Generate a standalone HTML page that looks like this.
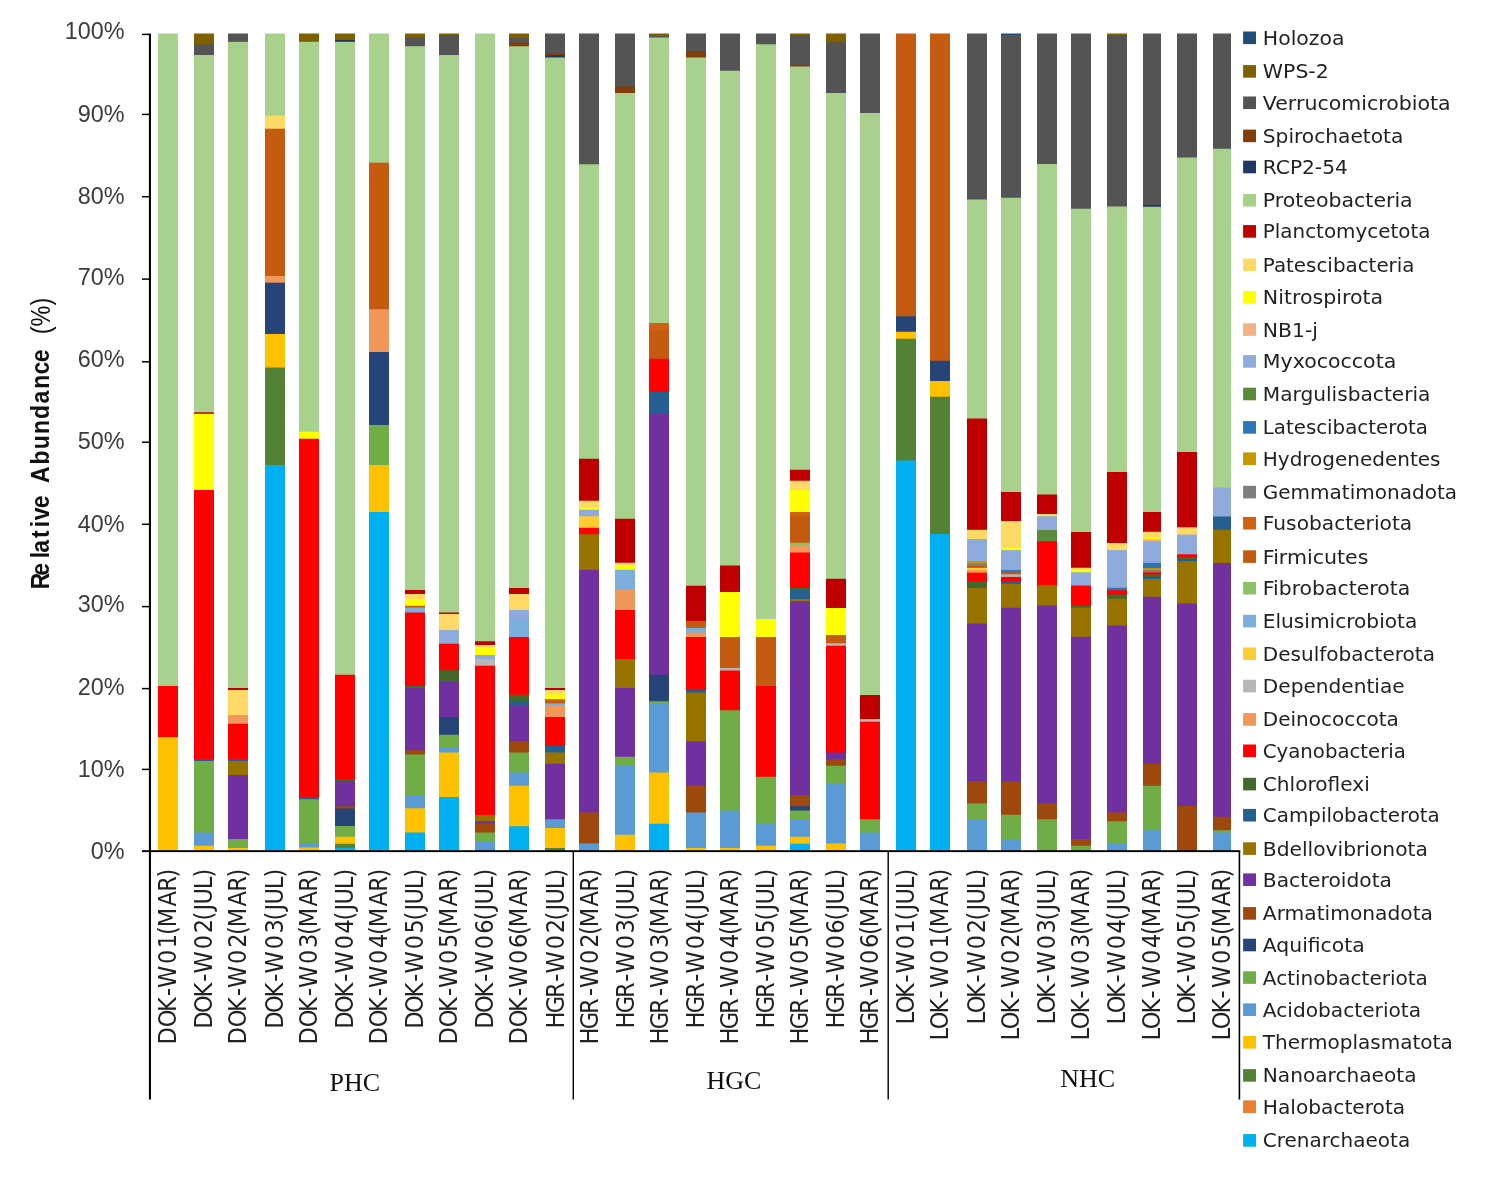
<!DOCTYPE html>
<html lang="en"><head><meta charset="utf-8"><title>Relative Abundance</title>
<style>html,body{margin:0;padding:0;background:#fff}svg{display:block}.yl{font-family:"Liberation Sans",sans-serif;font-size:23.4px;fill:#3c3c3c}.xl{font-family:"DejaVu Sans Condensed","Liberation Sans",sans-serif;font-size:25px;fill:#222}.lg{font-family:"DejaVu Sans","Liberation Sans",sans-serif;font-size:19.5px;fill:#222}.gl{font-family:"Liberation Serif",serif;font-size:26px;fill:#111}.yt{font-family:"Liberation Sans",sans-serif;font-weight:bold;font-size:25.5px;fill:#111}</style></head><body>
<svg width="1504" height="1187" viewBox="0 0 1504 1187">
<rect width="1504" height="1187" fill="#fff"/>
<g>
<rect x="158" y="33.50" width="20" height="817.50" fill="#A9D18E"/>
<rect x="158" y="686.00" width="20" height="165.00" fill="#FF0000"/>
<rect x="158" y="737.00" width="20" height="114.00" fill="#FFC000"/>
<rect x="194" y="33.50" width="20" height="817.50" fill="#7F6000"/>
<rect x="194" y="44.50" width="20" height="806.50" fill="#545454"/>
<rect x="194" y="55.00" width="20" height="796.00" fill="#A9D18E"/>
<rect x="194" y="412.25" width="20" height="438.75" fill="#C00000"/>
<rect x="194" y="413.75" width="20" height="437.25" fill="#FFFF00"/>
<rect x="194" y="490.00" width="20" height="361.00" fill="#FF0000"/>
<rect x="194" y="759.00" width="20" height="92.00" fill="#255E91"/>
<rect x="194" y="761.00" width="20" height="90.00" fill="#70AD47"/>
<rect x="194" y="832.50" width="20" height="18.50" fill="#5B9BD5"/>
<rect x="194" y="845.75" width="20" height="5.25" fill="#FFC000"/>
<rect x="228" y="33.50" width="20" height="817.50" fill="#545454"/>
<rect x="228" y="41.80" width="20" height="809.20" fill="#A9D18E"/>
<rect x="228" y="688.00" width="20" height="163.00" fill="#C00000"/>
<rect x="228" y="690.00" width="20" height="161.00" fill="#FFD966"/>
<rect x="228" y="715.00" width="20" height="136.00" fill="#F1975A"/>
<rect x="228" y="723.75" width="20" height="127.25" fill="#FF0000"/>
<rect x="228" y="759.00" width="20" height="92.00" fill="#255E91"/>
<rect x="228" y="761.00" width="20" height="90.00" fill="#997300"/>
<rect x="228" y="775.00" width="20" height="76.00" fill="#7030A0"/>
<rect x="228" y="839.00" width="20" height="12.00" fill="#70AD47"/>
<rect x="228" y="848.00" width="20" height="3.00" fill="#FFC000"/>
<rect x="265" y="33.50" width="20" height="817.50" fill="#A9D18E"/>
<rect x="265" y="115.50" width="20" height="735.50" fill="#FFD966"/>
<rect x="265" y="128.70" width="20" height="722.30" fill="#C55A11"/>
<rect x="265" y="276.00" width="20" height="575.00" fill="#F1975A"/>
<rect x="265" y="282.70" width="20" height="568.30" fill="#264478"/>
<rect x="265" y="334.00" width="20" height="517.00" fill="#FFC000"/>
<rect x="265" y="367.50" width="20" height="483.50" fill="#548235"/>
<rect x="265" y="465.00" width="20" height="386.00" fill="#00B0F0"/>
<rect x="299" y="33.50" width="20" height="817.50" fill="#7F6000"/>
<rect x="299" y="41.80" width="20" height="809.20" fill="#A9D18E"/>
<rect x="299" y="431.75" width="20" height="419.25" fill="#FFFF00"/>
<rect x="299" y="438.75" width="20" height="412.25" fill="#FF0000"/>
<rect x="299" y="797.00" width="20" height="54.00" fill="#255E91"/>
<rect x="299" y="799.25" width="20" height="51.75" fill="#70AD47"/>
<rect x="299" y="843.75" width="20" height="7.25" fill="#5B9BD5"/>
<rect x="299" y="847.50" width="20" height="3.50" fill="#FFC000"/>
<rect x="335" y="33.50" width="20" height="817.50" fill="#7F6000"/>
<rect x="335" y="40.00" width="20" height="811.00" fill="#1F3864"/>
<rect x="335" y="41.80" width="20" height="809.20" fill="#A9D18E"/>
<rect x="335" y="674.75" width="20" height="176.25" fill="#FF0000"/>
<rect x="335" y="779.25" width="20" height="71.75" fill="#43682B"/>
<rect x="335" y="781.25" width="20" height="69.75" fill="#7030A0"/>
<rect x="335" y="806.25" width="20" height="44.75" fill="#9E480E"/>
<rect x="335" y="808.50" width="20" height="42.50" fill="#264478"/>
<rect x="335" y="826.00" width="20" height="25.00" fill="#70AD47"/>
<rect x="335" y="836.75" width="20" height="14.25" fill="#FFC000"/>
<rect x="335" y="843.75" width="20" height="7.25" fill="#548235"/>
<rect x="335" y="848.00" width="20" height="3.00" fill="#00B0F0"/>
<rect x="369" y="33.50" width="20" height="817.50" fill="#A9D18E"/>
<rect x="369" y="162.70" width="20" height="688.30" fill="#C55A11"/>
<rect x="369" y="309.25" width="20" height="541.75" fill="#F1975A"/>
<rect x="369" y="352.00" width="20" height="499.00" fill="#264478"/>
<rect x="369" y="425.00" width="20" height="426.00" fill="#70AD47"/>
<rect x="369" y="465.00" width="20" height="386.00" fill="#FFC000"/>
<rect x="369" y="512.00" width="20" height="339.00" fill="#00B0F0"/>
<rect x="405" y="33.50" width="20" height="817.50" fill="#7F6000"/>
<rect x="405" y="37.40" width="20" height="813.60" fill="#545454"/>
<rect x="405" y="46.20" width="20" height="804.80" fill="#A9D18E"/>
<rect x="405" y="590.00" width="20" height="261.00" fill="#C00000"/>
<rect x="405" y="594.00" width="20" height="257.00" fill="#FFD966"/>
<rect x="405" y="599.00" width="20" height="252.00" fill="#FFFF00"/>
<rect x="405" y="605.75" width="20" height="245.25" fill="#C55A11"/>
<rect x="405" y="607.50" width="20" height="243.50" fill="#7CAFDD"/>
<rect x="405" y="612.50" width="20" height="238.50" fill="#FF0000"/>
<rect x="405" y="686.00" width="20" height="165.00" fill="#43682B"/>
<rect x="405" y="688.00" width="20" height="163.00" fill="#7030A0"/>
<rect x="405" y="750.25" width="20" height="100.75" fill="#9E480E"/>
<rect x="405" y="754.50" width="20" height="96.50" fill="#70AD47"/>
<rect x="405" y="795.00" width="20" height="56.00" fill="#5B9BD5"/>
<rect x="405" y="808.25" width="20" height="42.75" fill="#FFC000"/>
<rect x="405" y="832.50" width="20" height="18.50" fill="#00B0F0"/>
<rect x="439" y="33.50" width="20" height="817.50" fill="#7F6000"/>
<rect x="439" y="35.00" width="20" height="816.00" fill="#545454"/>
<rect x="439" y="55.00" width="20" height="796.00" fill="#A9D18E"/>
<rect x="439" y="612.50" width="20" height="238.50" fill="#C00000"/>
<rect x="439" y="614.00" width="20" height="237.00" fill="#FFD966"/>
<rect x="439" y="630.00" width="20" height="221.00" fill="#8FAADC"/>
<rect x="439" y="643.75" width="20" height="207.25" fill="#FF0000"/>
<rect x="439" y="670.25" width="20" height="180.75" fill="#43682B"/>
<rect x="439" y="681.25" width="20" height="169.75" fill="#7030A0"/>
<rect x="439" y="717.25" width="20" height="133.75" fill="#264478"/>
<rect x="439" y="734.75" width="20" height="116.25" fill="#70AD47"/>
<rect x="439" y="748.00" width="20" height="103.00" fill="#5B9BD5"/>
<rect x="439" y="752.50" width="20" height="98.50" fill="#FFC000"/>
<rect x="439" y="797.00" width="20" height="54.00" fill="#00B0F0"/>
<rect x="475" y="33.50" width="20" height="817.50" fill="#A9D18E"/>
<rect x="475" y="641.25" width="20" height="209.75" fill="#C00000"/>
<rect x="475" y="645.00" width="20" height="206.00" fill="#FFD966"/>
<rect x="475" y="647.50" width="20" height="203.50" fill="#FFFF00"/>
<rect x="475" y="655.00" width="20" height="196.00" fill="#8FAADC"/>
<rect x="475" y="659.00" width="20" height="192.00" fill="#B7B7B7"/>
<rect x="475" y="665.75" width="20" height="185.25" fill="#FF0000"/>
<rect x="475" y="815.00" width="20" height="36.00" fill="#997300"/>
<rect x="475" y="821.25" width="20" height="29.75" fill="#7030A0"/>
<rect x="475" y="823.50" width="20" height="27.50" fill="#9E480E"/>
<rect x="475" y="832.50" width="20" height="18.50" fill="#70AD47"/>
<rect x="475" y="841.75" width="20" height="9.25" fill="#5B9BD5"/>
<rect x="509" y="33.50" width="20" height="817.50" fill="#7F6000"/>
<rect x="509" y="38.00" width="20" height="813.00" fill="#545454"/>
<rect x="509" y="42.50" width="20" height="808.50" fill="#843C0B"/>
<rect x="509" y="46.25" width="20" height="804.75" fill="#A9D18E"/>
<rect x="509" y="588.00" width="20" height="263.00" fill="#C00000"/>
<rect x="509" y="594.00" width="20" height="257.00" fill="#FFD966"/>
<rect x="509" y="610.00" width="20" height="241.00" fill="#8FAADC"/>
<rect x="509" y="619.25" width="20" height="231.75" fill="#7CAFDD"/>
<rect x="509" y="637.00" width="20" height="214.00" fill="#FF0000"/>
<rect x="509" y="694.75" width="20" height="156.25" fill="#43682B"/>
<rect x="509" y="701.25" width="20" height="149.75" fill="#255E91"/>
<rect x="509" y="705.75" width="20" height="145.25" fill="#7030A0"/>
<rect x="509" y="741.25" width="20" height="109.75" fill="#9E480E"/>
<rect x="509" y="752.50" width="20" height="98.50" fill="#70AD47"/>
<rect x="509" y="772.50" width="20" height="78.50" fill="#5B9BD5"/>
<rect x="509" y="785.75" width="20" height="65.25" fill="#FFC000"/>
<rect x="509" y="826.25" width="20" height="24.75" fill="#00B0F0"/>
<rect x="545" y="33.50" width="20" height="817.50" fill="#545454"/>
<rect x="545" y="53.25" width="20" height="797.75" fill="#843C0B"/>
<rect x="545" y="55.25" width="20" height="795.75" fill="#1F3864"/>
<rect x="545" y="57.50" width="20" height="793.50" fill="#A9D18E"/>
<rect x="545" y="688.00" width="20" height="163.00" fill="#C00000"/>
<rect x="545" y="690.00" width="20" height="161.00" fill="#FFD966"/>
<rect x="545" y="694.50" width="20" height="156.50" fill="#FFFF00"/>
<rect x="545" y="699.10" width="20" height="151.90" fill="#D26012"/>
<rect x="545" y="701.20" width="20" height="149.80" fill="#C55A11"/>
<rect x="545" y="703.40" width="20" height="147.60" fill="#7CAFDD"/>
<rect x="545" y="705.75" width="20" height="145.25" fill="#F1975A"/>
<rect x="545" y="717.00" width="20" height="134.00" fill="#FF0000"/>
<rect x="545" y="745.75" width="20" height="105.25" fill="#255E91"/>
<rect x="545" y="752.50" width="20" height="98.50" fill="#997300"/>
<rect x="545" y="763.75" width="20" height="87.25" fill="#7030A0"/>
<rect x="545" y="819.25" width="20" height="31.75" fill="#5B9BD5"/>
<rect x="545" y="828.00" width="20" height="23.00" fill="#FFC000"/>
<rect x="545" y="848.00" width="20" height="3.00" fill="#548235"/>
<rect x="579" y="33.50" width="20" height="817.50" fill="#545454"/>
<rect x="579" y="164.25" width="20" height="686.75" fill="#A9D18E"/>
<rect x="579" y="458.75" width="20" height="392.25" fill="#C00000"/>
<rect x="579" y="500.75" width="20" height="350.25" fill="#FFD966"/>
<rect x="579" y="507.50" width="20" height="343.50" fill="#FFFF00"/>
<rect x="579" y="509.75" width="20" height="341.25" fill="#8FAADC"/>
<rect x="579" y="516.25" width="20" height="334.75" fill="#FFCD33"/>
<rect x="579" y="527.75" width="20" height="323.25" fill="#FF0000"/>
<rect x="579" y="534.25" width="20" height="316.75" fill="#997300"/>
<rect x="579" y="569.75" width="20" height="281.25" fill="#7030A0"/>
<rect x="579" y="812.50" width="20" height="38.50" fill="#9E480E"/>
<rect x="579" y="843.50" width="20" height="7.50" fill="#5B9BD5"/>
<rect x="615" y="33.50" width="20" height="817.50" fill="#545454"/>
<rect x="615" y="86.50" width="20" height="764.50" fill="#843C0B"/>
<rect x="615" y="93.00" width="20" height="758.00" fill="#A9D18E"/>
<rect x="615" y="518.75" width="20" height="332.25" fill="#C00000"/>
<rect x="615" y="562.75" width="20" height="288.25" fill="#FFD966"/>
<rect x="615" y="565.00" width="20" height="286.00" fill="#FFFF00"/>
<rect x="615" y="569.75" width="20" height="281.25" fill="#7CAFDD"/>
<rect x="615" y="590.00" width="20" height="261.00" fill="#F1975A"/>
<rect x="615" y="610.00" width="20" height="241.00" fill="#FF0000"/>
<rect x="615" y="659.00" width="20" height="192.00" fill="#997300"/>
<rect x="615" y="688.00" width="20" height="163.00" fill="#7030A0"/>
<rect x="615" y="756.75" width="20" height="94.25" fill="#70AD47"/>
<rect x="615" y="765.75" width="20" height="85.25" fill="#5B9BD5"/>
<rect x="615" y="834.75" width="20" height="16.25" fill="#FFC000"/>
<rect x="649" y="33.50" width="20" height="817.50" fill="#7F6000"/>
<rect x="649" y="35.75" width="20" height="815.25" fill="#545454"/>
<rect x="649" y="37.50" width="20" height="813.50" fill="#A9D18E"/>
<rect x="649" y="323.00" width="20" height="528.00" fill="#D26012"/>
<rect x="649" y="330.25" width="20" height="520.75" fill="#C55A11"/>
<rect x="649" y="358.75" width="20" height="492.25" fill="#FF0000"/>
<rect x="649" y="391.75" width="20" height="459.25" fill="#255E91"/>
<rect x="649" y="414.00" width="20" height="437.00" fill="#7030A0"/>
<rect x="649" y="674.75" width="20" height="176.25" fill="#264478"/>
<rect x="649" y="701.25" width="20" height="149.75" fill="#70AD47"/>
<rect x="649" y="703.50" width="20" height="147.50" fill="#5B9BD5"/>
<rect x="649" y="772.50" width="20" height="78.50" fill="#FFC000"/>
<rect x="649" y="823.75" width="20" height="27.25" fill="#00B0F0"/>
<rect x="686" y="33.50" width="20" height="817.50" fill="#545454"/>
<rect x="686" y="51.00" width="20" height="800.00" fill="#843C0B"/>
<rect x="686" y="57.50" width="20" height="793.50" fill="#A9D18E"/>
<rect x="686" y="585.75" width="20" height="265.25" fill="#C00000"/>
<rect x="686" y="621.00" width="20" height="230.00" fill="#C55A11"/>
<rect x="686" y="628.00" width="20" height="223.00" fill="#7CAFDD"/>
<rect x="686" y="632.50" width="20" height="218.50" fill="#F1975A"/>
<rect x="686" y="637.00" width="20" height="214.00" fill="#FF0000"/>
<rect x="686" y="690.00" width="20" height="161.00" fill="#255E91"/>
<rect x="686" y="692.50" width="20" height="158.50" fill="#997300"/>
<rect x="686" y="741.25" width="20" height="109.75" fill="#7030A0"/>
<rect x="686" y="785.75" width="20" height="65.25" fill="#9E480E"/>
<rect x="686" y="812.50" width="20" height="38.50" fill="#5B9BD5"/>
<rect x="686" y="848.00" width="20" height="3.00" fill="#FFC000"/>
<rect x="720" y="33.50" width="20" height="817.50" fill="#545454"/>
<rect x="720" y="70.75" width="20" height="780.25" fill="#A9D18E"/>
<rect x="720" y="565.50" width="20" height="285.50" fill="#C00000"/>
<rect x="720" y="592.00" width="20" height="259.00" fill="#FFFF00"/>
<rect x="720" y="637.00" width="20" height="214.00" fill="#C55A11"/>
<rect x="720" y="668.00" width="20" height="183.00" fill="#B7B7B7"/>
<rect x="720" y="670.50" width="20" height="180.50" fill="#FF0000"/>
<rect x="720" y="710.25" width="20" height="140.75" fill="#70AD47"/>
<rect x="720" y="810.50" width="20" height="40.50" fill="#5B9BD5"/>
<rect x="720" y="848.00" width="20" height="3.00" fill="#FFC000"/>
<rect x="756" y="33.50" width="20" height="817.50" fill="#545454"/>
<rect x="756" y="44.25" width="20" height="806.75" fill="#A9D18E"/>
<rect x="756" y="619.00" width="20" height="232.00" fill="#FFFF00"/>
<rect x="756" y="637.00" width="20" height="214.00" fill="#C55A11"/>
<rect x="756" y="686.00" width="20" height="165.00" fill="#FF0000"/>
<rect x="756" y="776.75" width="20" height="74.25" fill="#70AD47"/>
<rect x="756" y="823.75" width="20" height="27.25" fill="#5B9BD5"/>
<rect x="756" y="845.75" width="20" height="5.25" fill="#FFC000"/>
<rect x="790" y="33.50" width="20" height="817.50" fill="#7F6000"/>
<rect x="790" y="35.50" width="20" height="815.50" fill="#545454"/>
<rect x="790" y="64.75" width="20" height="786.25" fill="#843C0B"/>
<rect x="790" y="66.50" width="20" height="784.50" fill="#A9D18E"/>
<rect x="790" y="469.75" width="20" height="381.25" fill="#C00000"/>
<rect x="790" y="480.75" width="20" height="370.25" fill="#FFD966"/>
<rect x="790" y="490.00" width="20" height="361.00" fill="#FFFF00"/>
<rect x="790" y="512.00" width="20" height="339.00" fill="#D26012"/>
<rect x="790" y="516.25" width="20" height="334.75" fill="#C55A11"/>
<rect x="790" y="542.75" width="20" height="308.25" fill="#8CC168"/>
<rect x="790" y="545.75" width="20" height="305.25" fill="#F1975A"/>
<rect x="790" y="552.50" width="20" height="298.50" fill="#FF0000"/>
<rect x="790" y="588.00" width="20" height="263.00" fill="#43682B"/>
<rect x="790" y="590.00" width="20" height="261.00" fill="#255E91"/>
<rect x="790" y="599.00" width="20" height="252.00" fill="#997300"/>
<rect x="790" y="601.25" width="20" height="249.75" fill="#7030A0"/>
<rect x="790" y="795.00" width="20" height="56.00" fill="#9E480E"/>
<rect x="790" y="806.25" width="20" height="44.75" fill="#264478"/>
<rect x="790" y="810.50" width="20" height="40.50" fill="#70AD47"/>
<rect x="790" y="819.25" width="20" height="31.75" fill="#5B9BD5"/>
<rect x="790" y="836.75" width="20" height="14.25" fill="#FFC000"/>
<rect x="790" y="843.75" width="20" height="7.25" fill="#00B0F0"/>
<rect x="826" y="33.50" width="20" height="817.50" fill="#7F6000"/>
<rect x="826" y="42.25" width="20" height="808.75" fill="#545454"/>
<rect x="826" y="93.00" width="20" height="758.00" fill="#A9D18E"/>
<rect x="826" y="578.75" width="20" height="272.25" fill="#C00000"/>
<rect x="826" y="608.00" width="20" height="243.00" fill="#FFFF00"/>
<rect x="826" y="635.00" width="20" height="216.00" fill="#C55A11"/>
<rect x="826" y="643.25" width="20" height="207.75" fill="#B7B7B7"/>
<rect x="826" y="645.75" width="20" height="205.25" fill="#FF0000"/>
<rect x="826" y="752.50" width="20" height="98.50" fill="#7030A0"/>
<rect x="826" y="759.25" width="20" height="91.75" fill="#9E480E"/>
<rect x="826" y="765.75" width="20" height="85.25" fill="#70AD47"/>
<rect x="826" y="783.75" width="20" height="67.25" fill="#5B9BD5"/>
<rect x="826" y="843.50" width="20" height="7.50" fill="#FFC000"/>
<rect x="860" y="33.50" width="20" height="817.50" fill="#545454"/>
<rect x="860" y="113.00" width="20" height="738.00" fill="#A9D18E"/>
<rect x="860" y="695.00" width="20" height="156.00" fill="#C00000"/>
<rect x="860" y="719.00" width="20" height="132.00" fill="#B7B7B7"/>
<rect x="860" y="721.75" width="20" height="129.25" fill="#FF0000"/>
<rect x="860" y="819.25" width="20" height="31.75" fill="#70AD47"/>
<rect x="860" y="832.50" width="20" height="18.50" fill="#5B9BD5"/>
<rect x="896" y="33.50" width="20" height="817.50" fill="#C55A11"/>
<rect x="896" y="316.25" width="20" height="534.75" fill="#264478"/>
<rect x="896" y="331.75" width="20" height="519.25" fill="#FFC000"/>
<rect x="896" y="338.75" width="20" height="512.25" fill="#548235"/>
<rect x="896" y="460.50" width="20" height="390.50" fill="#00B0F0"/>
<rect x="930" y="33.50" width="20" height="817.50" fill="#C55A11"/>
<rect x="930" y="360.75" width="20" height="490.25" fill="#264478"/>
<rect x="930" y="381.00" width="20" height="470.00" fill="#FFC000"/>
<rect x="930" y="396.75" width="20" height="454.25" fill="#548235"/>
<rect x="930" y="534.00" width="20" height="317.00" fill="#00B0F0"/>
<rect x="967" y="33.50" width="20" height="817.50" fill="#545454"/>
<rect x="967" y="199.50" width="20" height="651.50" fill="#A9D18E"/>
<rect x="967" y="418.50" width="20" height="432.50" fill="#C00000"/>
<rect x="967" y="529.80" width="20" height="321.20" fill="#FFD966"/>
<rect x="967" y="539.00" width="20" height="312.00" fill="#8FAADC"/>
<rect x="967" y="561.20" width="20" height="289.80" fill="#C99700"/>
<rect x="967" y="563.20" width="20" height="287.80" fill="#7F7F7F"/>
<rect x="967" y="565.90" width="20" height="285.10" fill="#C55A11"/>
<rect x="967" y="567.90" width="20" height="283.10" fill="#FFCD33"/>
<rect x="967" y="570.10" width="20" height="280.90" fill="#F1975A"/>
<rect x="967" y="572.70" width="20" height="278.30" fill="#FF0000"/>
<rect x="967" y="581.40" width="20" height="269.60" fill="#43682B"/>
<rect x="967" y="588.00" width="20" height="263.00" fill="#997300"/>
<rect x="967" y="623.50" width="20" height="227.50" fill="#7030A0"/>
<rect x="967" y="781.25" width="20" height="69.75" fill="#9E480E"/>
<rect x="967" y="803.50" width="20" height="47.50" fill="#70AD47"/>
<rect x="967" y="819.25" width="20" height="31.75" fill="#5B9BD5"/>
<rect x="1001" y="33.50" width="20" height="817.50" fill="#1F4E79"/>
<rect x="1001" y="35.00" width="20" height="816.00" fill="#545454"/>
<rect x="1001" y="197.75" width="20" height="653.25" fill="#A9D18E"/>
<rect x="1001" y="492.00" width="20" height="359.00" fill="#C00000"/>
<rect x="1001" y="521.00" width="20" height="330.00" fill="#FFD966"/>
<rect x="1001" y="547.60" width="20" height="303.40" fill="#FFFF00"/>
<rect x="1001" y="550.10" width="20" height="300.90" fill="#8FAADC"/>
<rect x="1001" y="570.10" width="20" height="280.90" fill="#2E75B6"/>
<rect x="1001" y="572.30" width="20" height="278.70" fill="#C55A11"/>
<rect x="1001" y="574.30" width="20" height="276.70" fill="#B7B7B7"/>
<rect x="1001" y="576.90" width="20" height="274.10" fill="#FF0000"/>
<rect x="1001" y="581.40" width="20" height="269.60" fill="#255E91"/>
<rect x="1001" y="583.80" width="20" height="267.20" fill="#997300"/>
<rect x="1001" y="607.75" width="20" height="243.25" fill="#7030A0"/>
<rect x="1001" y="781.25" width="20" height="69.75" fill="#9E480E"/>
<rect x="1001" y="814.75" width="20" height="36.25" fill="#70AD47"/>
<rect x="1001" y="839.00" width="20" height="12.00" fill="#5B9BD5"/>
<rect x="1037" y="33.50" width="20" height="817.50" fill="#545454"/>
<rect x="1037" y="164.00" width="20" height="687.00" fill="#A9D18E"/>
<rect x="1037" y="494.50" width="20" height="356.50" fill="#C00000"/>
<rect x="1037" y="514.00" width="20" height="337.00" fill="#FFD966"/>
<rect x="1037" y="516.25" width="20" height="334.75" fill="#8FAADC"/>
<rect x="1037" y="530.00" width="20" height="321.00" fill="#5A8A3B"/>
<rect x="1037" y="541.20" width="20" height="309.80" fill="#FF0000"/>
<rect x="1037" y="585.25" width="20" height="265.75" fill="#997300"/>
<rect x="1037" y="605.50" width="20" height="245.50" fill="#7030A0"/>
<rect x="1037" y="803.50" width="20" height="47.50" fill="#9E480E"/>
<rect x="1037" y="819.25" width="20" height="31.75" fill="#70AD47"/>
<rect x="1071" y="33.50" width="20" height="817.50" fill="#545454"/>
<rect x="1071" y="208.75" width="20" height="642.25" fill="#A9D18E"/>
<rect x="1071" y="532.00" width="20" height="319.00" fill="#C00000"/>
<rect x="1071" y="567.75" width="20" height="283.25" fill="#FFD966"/>
<rect x="1071" y="569.50" width="20" height="281.50" fill="#FFFF00"/>
<rect x="1071" y="572.25" width="20" height="278.75" fill="#8FAADC"/>
<rect x="1071" y="585.50" width="20" height="265.50" fill="#FF0000"/>
<rect x="1071" y="605.50" width="20" height="245.50" fill="#43682B"/>
<rect x="1071" y="607.75" width="20" height="243.25" fill="#997300"/>
<rect x="1071" y="636.75" width="20" height="214.25" fill="#7030A0"/>
<rect x="1071" y="839.00" width="20" height="12.00" fill="#9E480E"/>
<rect x="1071" y="845.75" width="20" height="5.25" fill="#70AD47"/>
<rect x="1107" y="33.50" width="20" height="817.50" fill="#7F6000"/>
<rect x="1107" y="35.25" width="20" height="815.75" fill="#545454"/>
<rect x="1107" y="206.50" width="20" height="644.50" fill="#A9D18E"/>
<rect x="1107" y="472.00" width="20" height="379.00" fill="#C00000"/>
<rect x="1107" y="543.00" width="20" height="308.00" fill="#FFD966"/>
<rect x="1107" y="550.10" width="20" height="300.90" fill="#8FAADC"/>
<rect x="1107" y="587.80" width="20" height="263.20" fill="#2E75B6"/>
<rect x="1107" y="590.20" width="20" height="260.80" fill="#FF0000"/>
<rect x="1107" y="594.50" width="20" height="256.50" fill="#43682B"/>
<rect x="1107" y="598.80" width="20" height="252.20" fill="#997300"/>
<rect x="1107" y="625.50" width="20" height="225.50" fill="#7030A0"/>
<rect x="1107" y="812.50" width="20" height="38.50" fill="#9E480E"/>
<rect x="1107" y="821.25" width="20" height="29.75" fill="#70AD47"/>
<rect x="1107" y="843.50" width="20" height="7.50" fill="#5B9BD5"/>
<rect x="1143" y="33.50" width="18" height="817.50" fill="#545454"/>
<rect x="1143" y="205.00" width="18" height="646.00" fill="#1F3864"/>
<rect x="1143" y="206.75" width="18" height="644.25" fill="#A9D18E"/>
<rect x="1143" y="512.00" width="18" height="339.00" fill="#C00000"/>
<rect x="1143" y="531.80" width="18" height="319.20" fill="#FFD966"/>
<rect x="1143" y="537.00" width="18" height="314.00" fill="#FFFF00"/>
<rect x="1143" y="539.10" width="18" height="311.90" fill="#F4B183"/>
<rect x="1143" y="541.30" width="18" height="309.70" fill="#8FAADC"/>
<rect x="1143" y="562.90" width="18" height="288.10" fill="#2E75B6"/>
<rect x="1143" y="568.10" width="18" height="282.90" fill="#C99700"/>
<rect x="1143" y="570.20" width="18" height="280.80" fill="#7F7F7F"/>
<rect x="1143" y="572.30" width="18" height="278.70" fill="#FF0000"/>
<rect x="1143" y="574.50" width="18" height="276.50" fill="#43682B"/>
<rect x="1143" y="576.90" width="18" height="274.10" fill="#255E91"/>
<rect x="1143" y="579.00" width="18" height="272.00" fill="#997300"/>
<rect x="1143" y="596.80" width="18" height="254.20" fill="#7030A0"/>
<rect x="1143" y="763.75" width="18" height="87.25" fill="#9E480E"/>
<rect x="1143" y="785.75" width="18" height="65.25" fill="#70AD47"/>
<rect x="1143" y="830.25" width="18" height="20.75" fill="#5B9BD5"/>
<rect x="1177" y="33.50" width="20" height="817.50" fill="#545454"/>
<rect x="1177" y="157.50" width="20" height="693.50" fill="#A9D18E"/>
<rect x="1177" y="452.00" width="20" height="399.00" fill="#C00000"/>
<rect x="1177" y="527.30" width="20" height="323.70" fill="#FFD966"/>
<rect x="1177" y="534.60" width="20" height="316.40" fill="#8FAADC"/>
<rect x="1177" y="554.30" width="20" height="296.70" fill="#FF0000"/>
<rect x="1177" y="557.00" width="20" height="294.00" fill="#43682B"/>
<rect x="1177" y="559.00" width="20" height="292.00" fill="#255E91"/>
<rect x="1177" y="561.20" width="20" height="289.80" fill="#997300"/>
<rect x="1177" y="603.50" width="20" height="247.50" fill="#7030A0"/>
<rect x="1177" y="806.00" width="20" height="45.00" fill="#9E480E"/>
<rect x="1213" y="33.50" width="18" height="817.50" fill="#545454"/>
<rect x="1213" y="148.75" width="18" height="702.25" fill="#A9D18E"/>
<rect x="1213" y="487.50" width="18" height="363.50" fill="#8FAADC"/>
<rect x="1213" y="516.50" width="18" height="334.50" fill="#255E91"/>
<rect x="1213" y="529.75" width="18" height="321.25" fill="#997300"/>
<rect x="1213" y="563.00" width="18" height="288.00" fill="#7030A0"/>
<rect x="1213" y="816.75" width="18" height="34.25" fill="#9E480E"/>
<rect x="1213" y="830.25" width="18" height="20.75" fill="#70AD47"/>
<rect x="1213" y="832.50" width="18" height="18.50" fill="#5B9BD5"/>
</g>
<g fill="#000">
<rect x="148.9" y="33.5" width="2.1" height="1066"/>
<rect x="142" y="850.2" width="1098.3" height="1.9"/>
<rect x="142" y="33.65" width="7" height="1.5"/>
<rect x="142" y="113.65" width="7" height="1.5"/>
<rect x="142" y="196.00" width="7" height="1.5"/>
<rect x="142" y="278.35" width="7" height="1.5"/>
<rect x="142" y="361.05" width="7" height="1.5"/>
<rect x="142" y="441.45" width="7" height="1.5"/>
<rect x="142" y="523.55" width="7" height="1.5"/>
<rect x="142" y="605.85" width="7" height="1.5"/>
<rect x="142" y="687.85" width="7" height="1.5"/>
<rect x="142" y="768.65" width="7" height="1.5"/>
<rect x="572.6" y="851" width="1.4" height="248.5"/>
<rect x="887.5" y="851" width="1.4" height="248.5"/>
<rect x="1238.6" y="851" width="1.6" height="248.5"/>
</g>
<text class="yl" x="124.6" y="39.2" text-anchor="end">100%</text>
<text class="yl" x="124.6" y="122.0" text-anchor="end">90%</text>
<text class="yl" x="124.6" y="204.3" text-anchor="end">80%</text>
<text class="yl" x="124.6" y="284.6" text-anchor="end">70%</text>
<text class="yl" x="124.6" y="367.4" text-anchor="end">60%</text>
<text class="yl" x="124.6" y="449.4" text-anchor="end">50%</text>
<text class="yl" x="124.6" y="531.9" text-anchor="end">40%</text>
<text class="yl" x="124.6" y="612.0" text-anchor="end">30%</text>
<text class="yl" x="124.6" y="694.5" text-anchor="end">20%</text>
<text class="yl" x="124.6" y="776.8" text-anchor="end">10%</text>
<text class="yl" x="124.6" y="858.9" text-anchor="end">0%</text>
<text class="yt" transform="translate(49.3,589.3) rotate(-90) scale(0.90,1)" x="0.0 15.1 34.5 40.5 57.0 68.9 76.6 90.0 104.8 118.0 138.7 155.7 172.7 189.3 206.5 222.9 238.6 252.2">Relative Abundance</text>
<text class="yt" style="font-weight:normal;font-size:27px" transform="translate(49.6,334.3) rotate(-90)" textLength="36.5" lengthAdjust="spacingAndGlyphs">(%)</text>
<text class="xl" transform="translate(176.30,1050.0) rotate(-90)" x="5.6 22.7 38.0 53.9 62.0 86.0 101.8 115.1 122.7 143.5 158.2 172.5">DOK-W01(MAR)</text>
<text class="xl" transform="translate(212.30,1050.0) rotate(-90)" x="21.2 37.1 52.4 68.3 76.4 100.8 116.7 129.5 139.5 145.4 160.7 172.5">DOK-W02(JUL)</text>
<text class="xl" transform="translate(246.30,1050.0) rotate(-90)" x="5.6 22.7 38.0 53.9 62.0 86.0 102.3 115.1 122.7 143.5 158.2 172.5">DOK-W02(MAR)</text>
<text class="xl" transform="translate(282.93,1050.0) rotate(-90)" x="21.2 37.1 52.4 68.3 76.4 100.8 116.5 129.5 139.5 145.4 160.7 172.5">DOK-W03(JUL)</text>
<text class="xl" transform="translate(316.80,1050.0) rotate(-90)" x="5.6 22.7 38.0 53.9 62.0 86.0 102.0 115.1 122.7 143.5 158.2 172.5">DOK-W03(MAR)</text>
<text class="xl" transform="translate(352.80,1050.0) rotate(-90)" x="21.2 37.1 52.4 68.3 76.4 100.8 116.5 129.5 139.5 145.4 160.7 172.5">DOK-W04(JUL)</text>
<text class="xl" transform="translate(386.80,1050.0) rotate(-90)" x="5.6 22.7 38.0 53.9 62.0 86.0 102.1 115.1 122.7 143.5 158.2 172.5">DOK-W04(MAR)</text>
<text class="xl" transform="translate(423.30,1050.0) rotate(-90)" x="21.2 37.1 52.4 68.3 76.4 100.8 116.5 129.5 139.5 145.4 160.7 172.5">DOK-W05(JUL)</text>
<text class="xl" transform="translate(457.05,1050.0) rotate(-90)" x="5.6 22.7 38.0 53.9 62.0 86.0 102.1 115.1 122.7 143.5 158.2 172.5">DOK-W05(MAR)</text>
<text class="xl" transform="translate(493.30,1050.0) rotate(-90)" x="21.2 37.1 52.4 68.3 76.4 100.8 116.3 129.5 139.5 145.4 160.7 172.5">DOK-W06(JUL)</text>
<text class="xl" transform="translate(527.30,1050.0) rotate(-90)" x="5.6 22.7 38.0 53.9 62.0 86.0 101.9 115.1 122.7 143.5 158.2 172.5">DOK-W06(MAR)</text>
<text class="xl" transform="translate(563.55,1050.0) rotate(-90)" x="21.5 36.7 52.1 68.3 76.4 100.8 116.7 129.5 139.5 145.4 160.7 172.5">HGR-W02(JUL)</text>
<text class="xl" transform="translate(597.55,1050.0) rotate(-90)" x="5.5 20.7 36.1 53.9 62.0 86.0 102.3 115.1 122.7 143.5 158.2 172.5">HGR-W02(MAR)</text>
<text class="xl" transform="translate(633.55,1050.0) rotate(-90)" x="21.5 36.7 52.1 68.3 76.4 100.8 116.5 129.5 139.5 145.4 160.7 172.5">HGR-W03(JUL)</text>
<text class="xl" transform="translate(667.55,1050.0) rotate(-90)" x="5.5 20.7 36.1 53.9 62.0 86.0 102.0 115.1 122.7 143.5 158.2 172.5">HGR-W03(MAR)</text>
<text class="xl" transform="translate(704.05,1050.0) rotate(-90)" x="21.5 36.7 52.1 68.3 76.4 100.8 116.5 129.5 139.5 145.4 160.7 172.5">HGR-W04(JUL)</text>
<text class="xl" transform="translate(738.05,1050.0) rotate(-90)" x="5.5 20.7 36.1 53.9 62.0 86.0 102.1 115.1 122.7 143.5 158.2 172.5">HGR-W04(MAR)</text>
<text class="xl" transform="translate(773.92,1050.0) rotate(-90)" x="21.5 36.7 52.1 68.3 76.4 100.8 116.5 129.5 139.5 145.4 160.7 172.5">HGR-W05(JUL)</text>
<text class="xl" transform="translate(807.80,1050.0) rotate(-90)" x="5.5 20.7 36.1 53.9 62.0 86.0 102.1 115.1 122.7 143.5 158.2 172.5">HGR-W05(MAR)</text>
<text class="xl" transform="translate(844.05,1050.0) rotate(-90)" x="21.5 36.7 52.1 68.3 76.4 100.8 116.3 129.5 139.5 145.4 160.7 172.5">HGR-W06(JUL)</text>
<text class="xl" transform="translate(878.42,1050.0) rotate(-90)" x="5.5 20.7 36.1 53.9 62.0 86.0 101.9 115.1 122.7 143.5 158.2 172.5">HGR-W06(MAR)</text>
<text class="xl" transform="translate(914.42,1050.0) rotate(-90)" x="25.4 36.7 52.0 67.5 76.4 100.8 116.2 129.5 139.5 145.4 160.7 172.5">LOK-W01(JUL)</text>
<text class="xl" transform="translate(948.30,1050.0) rotate(-90)" x="9.4 20.7 36.4 51.5 62.0 86.0 101.8 115.1 122.7 143.5 158.2 172.5">LOK-W01(MAR)</text>
<text class="xl" transform="translate(984.80,1050.0) rotate(-90)" x="25.4 36.7 52.0 67.5 76.4 100.8 116.7 129.5 139.5 145.4 160.7 172.5">LOK-W02(JUL)</text>
<text class="xl" transform="translate(1018.80,1050.0) rotate(-90)" x="9.4 20.7 36.4 51.5 62.0 86.0 102.3 115.1 122.7 143.5 158.2 172.5">LOK-W02(MAR)</text>
<text class="xl" transform="translate(1054.80,1050.0) rotate(-90)" x="25.4 36.7 52.0 67.5 76.4 100.8 116.5 129.5 139.5 145.4 160.7 172.5">LOK-W03(JUL)</text>
<text class="xl" transform="translate(1088.80,1050.0) rotate(-90)" x="9.4 20.7 36.4 51.5 62.0 86.0 102.0 115.1 122.7 143.5 158.2 172.5">LOK-W03(MAR)</text>
<text class="xl" transform="translate(1125.05,1050.0) rotate(-90)" x="25.4 36.7 52.0 67.5 76.4 100.8 116.5 129.5 139.5 145.4 160.7 172.5">LOK-W04(JUL)</text>
<text class="xl" transform="translate(1160.05,1050.0) rotate(-90)" x="9.4 20.7 36.4 51.5 62.0 86.0 102.1 115.1 122.7 143.5 158.2 172.5">LOK-W04(MAR)</text>
<text class="xl" transform="translate(1195.05,1050.0) rotate(-90)" x="25.4 36.7 52.0 67.5 76.4 100.8 116.5 129.5 139.5 145.4 160.7 172.5">LOK-W05(JUL)</text>
<text class="xl" transform="translate(1230.17,1050.0) rotate(-90)" x="9.4 20.7 36.4 51.5 62.0 86.0 102.1 115.1 122.7 143.5 158.2 172.5">LOK-W05(MAR)</text>
<text class="gl" x="354.75" y="1090.5" text-anchor="middle">PHC</text>
<text class="gl" x="734" y="1088.5" text-anchor="middle">HGC</text>
<text class="gl" x="1087.75" y="1086.5" text-anchor="middle">NHC</text>
<rect x="1243.1" y="31.5" width="12.9" height="12.6" fill="#1F4E79"/>
<text class="lg" x="1262.8" y="44.7" textLength="81.7" lengthAdjust="spacingAndGlyphs">Holozoa</text>
<rect x="1243.1" y="65.1" width="12.9" height="12.6" fill="#7F6000"/>
<text class="lg" x="1262.8" y="78.3" textLength="66.0" lengthAdjust="spacingAndGlyphs">WPS-2</text>
<rect x="1243.1" y="96.5" width="12.9" height="12.6" fill="#545454"/>
<text class="lg" x="1262.8" y="109.7" textLength="187.9" lengthAdjust="spacingAndGlyphs">Verrucomicrobiota</text>
<rect x="1243.1" y="129.6" width="12.9" height="12.6" fill="#843C0B"/>
<text class="lg" x="1262.8" y="142.8" textLength="140.6" lengthAdjust="spacingAndGlyphs">Spirochaetota</text>
<rect x="1243.1" y="160.7" width="12.9" height="12.6" fill="#1F3864"/>
<text class="lg" x="1262.8" y="173.9" textLength="85.0" lengthAdjust="spacingAndGlyphs">RCP2-54</text>
<rect x="1243.1" y="194.0" width="12.9" height="12.6" fill="#A9D18E"/>
<text class="lg" x="1262.8" y="207.2" textLength="149.9" lengthAdjust="spacingAndGlyphs">Proteobacteria</text>
<rect x="1243.1" y="225.1" width="12.9" height="12.6" fill="#C00000"/>
<text class="lg" x="1262.8" y="238.3" textLength="167.6" lengthAdjust="spacingAndGlyphs">Planctomycetota</text>
<rect x="1243.1" y="258.5" width="12.9" height="12.6" fill="#FFD966"/>
<text class="lg" x="1262.8" y="271.7" textLength="151.7" lengthAdjust="spacingAndGlyphs">Patescibacteria</text>
<rect x="1243.1" y="290.9" width="12.9" height="12.6" fill="#FFFF00"/>
<text class="lg" x="1262.8" y="304.1" textLength="120.4" lengthAdjust="spacingAndGlyphs">Nitrospirota</text>
<rect x="1243.1" y="323.3" width="12.9" height="12.6" fill="#F4B183"/>
<text class="lg" x="1262.8" y="336.5" textLength="55.2" lengthAdjust="spacingAndGlyphs">NB1-j</text>
<rect x="1243.1" y="355.1" width="12.9" height="12.6" fill="#8FAADC"/>
<text class="lg" x="1262.8" y="368.3" textLength="133.5" lengthAdjust="spacingAndGlyphs">Myxococcota</text>
<rect x="1243.1" y="387.7" width="12.9" height="12.6" fill="#5A8A3B"/>
<text class="lg" x="1262.8" y="400.9" textLength="167.6" lengthAdjust="spacingAndGlyphs">Margulisbacteria</text>
<rect x="1243.1" y="421.1" width="12.9" height="12.6" fill="#2E75B6"/>
<text class="lg" x="1262.8" y="434.3" textLength="165.1" lengthAdjust="spacingAndGlyphs">Latescibacterota</text>
<rect x="1243.1" y="452.4" width="12.9" height="12.6" fill="#C99700"/>
<text class="lg" x="1262.8" y="465.6" textLength="177.7" lengthAdjust="spacingAndGlyphs">Hydrogenedentes</text>
<rect x="1243.1" y="485.8" width="12.9" height="12.6" fill="#7F7F7F"/>
<text class="lg" x="1262.8" y="499.0" textLength="194.2" lengthAdjust="spacingAndGlyphs">Gemmatimonadota</text>
<rect x="1243.1" y="516.9" width="12.9" height="12.6" fill="#D26012"/>
<text class="lg" x="1262.8" y="530.1" textLength="149.4" lengthAdjust="spacingAndGlyphs">Fusobacteriota</text>
<rect x="1243.1" y="550.3" width="12.9" height="12.6" fill="#C55A11"/>
<text class="lg" x="1262.8" y="563.5" textLength="105.7" lengthAdjust="spacingAndGlyphs">Firmicutes</text>
<rect x="1243.1" y="581.9" width="12.9" height="12.6" fill="#8CC168"/>
<text class="lg" x="1262.8" y="595.1" textLength="147.4" lengthAdjust="spacingAndGlyphs">Fibrobacterota</text>
<rect x="1243.1" y="614.8" width="12.9" height="12.6" fill="#7CAFDD"/>
<text class="lg" x="1262.8" y="628.0" textLength="154.5" lengthAdjust="spacingAndGlyphs">Elusimicrobiota</text>
<rect x="1243.1" y="647.4" width="12.9" height="12.6" fill="#FFCD33"/>
<text class="lg" x="1262.8" y="660.6" textLength="172.2" lengthAdjust="spacingAndGlyphs">Desulfobacterota</text>
<rect x="1243.1" y="679.8" width="12.9" height="12.6" fill="#B7B7B7"/>
<text class="lg" x="1262.8" y="693.0" textLength="141.8" lengthAdjust="spacingAndGlyphs">Dependentiae</text>
<rect x="1243.1" y="713.1" width="12.9" height="12.6" fill="#F1975A"/>
<text class="lg" x="1262.8" y="726.3" textLength="136.0" lengthAdjust="spacingAndGlyphs">Deinococcota</text>
<rect x="1243.1" y="744.5" width="12.9" height="12.6" fill="#FF0000"/>
<text class="lg" x="1262.8" y="757.7" textLength="143.1" lengthAdjust="spacingAndGlyphs">Cyanobacteria</text>
<rect x="1243.1" y="777.8" width="12.9" height="12.6" fill="#43682B"/>
<text class="lg" x="1262.8" y="791.0" textLength="107.0" lengthAdjust="spacingAndGlyphs">Chloroflexi</text>
<rect x="1243.1" y="808.9" width="12.9" height="12.6" fill="#255E91"/>
<text class="lg" x="1262.8" y="822.1" textLength="177.0" lengthAdjust="spacingAndGlyphs">Campilobacterota</text>
<rect x="1243.1" y="842.3" width="12.9" height="12.6" fill="#997300"/>
<text class="lg" x="1262.8" y="855.5" textLength="165.1" lengthAdjust="spacingAndGlyphs">Bdellovibrionota</text>
<rect x="1243.1" y="873.4" width="12.9" height="12.6" fill="#7030A0"/>
<text class="lg" x="1262.8" y="886.6" textLength="129.2" lengthAdjust="spacingAndGlyphs">Bacteroidota</text>
<rect x="1243.1" y="907.1" width="12.9" height="12.6" fill="#9E480E"/>
<text class="lg" x="1262.8" y="920.3" textLength="170.2" lengthAdjust="spacingAndGlyphs">Armatimonadota</text>
<rect x="1243.1" y="938.7" width="12.9" height="12.6" fill="#264478"/>
<text class="lg" x="1262.8" y="951.9" textLength="101.9" lengthAdjust="spacingAndGlyphs">Aquificota</text>
<rect x="1243.1" y="971.3" width="12.9" height="12.6" fill="#70AD47"/>
<text class="lg" x="1262.8" y="984.5" textLength="165.1" lengthAdjust="spacingAndGlyphs">Actinobacteriota</text>
<rect x="1243.1" y="1003.4" width="12.9" height="12.6" fill="#5B9BD5"/>
<text class="lg" x="1262.8" y="1016.6" textLength="158.3" lengthAdjust="spacingAndGlyphs">Acidobacteriota</text>
<rect x="1243.1" y="1036.0" width="12.9" height="12.6" fill="#FFC000"/>
<text class="lg" x="1262.8" y="1049.2" textLength="189.9" lengthAdjust="spacingAndGlyphs">Thermoplasmatota</text>
<rect x="1243.1" y="1069.1" width="12.9" height="12.6" fill="#548235"/>
<text class="lg" x="1262.8" y="1082.3" textLength="153.7" lengthAdjust="spacingAndGlyphs">Nanoarchaeota</text>
<rect x="1243.1" y="1100.4" width="12.9" height="12.6" fill="#ED7D31"/>
<text class="lg" x="1262.8" y="1113.6" textLength="142.4" lengthAdjust="spacingAndGlyphs">Halobacterota</text>
<rect x="1243.1" y="1134.1" width="12.9" height="12.6" fill="#00B0F0"/>
<text class="lg" x="1262.8" y="1147.3" textLength="147.4" lengthAdjust="spacingAndGlyphs">Crenarchaeota</text>
</svg></body></html>
